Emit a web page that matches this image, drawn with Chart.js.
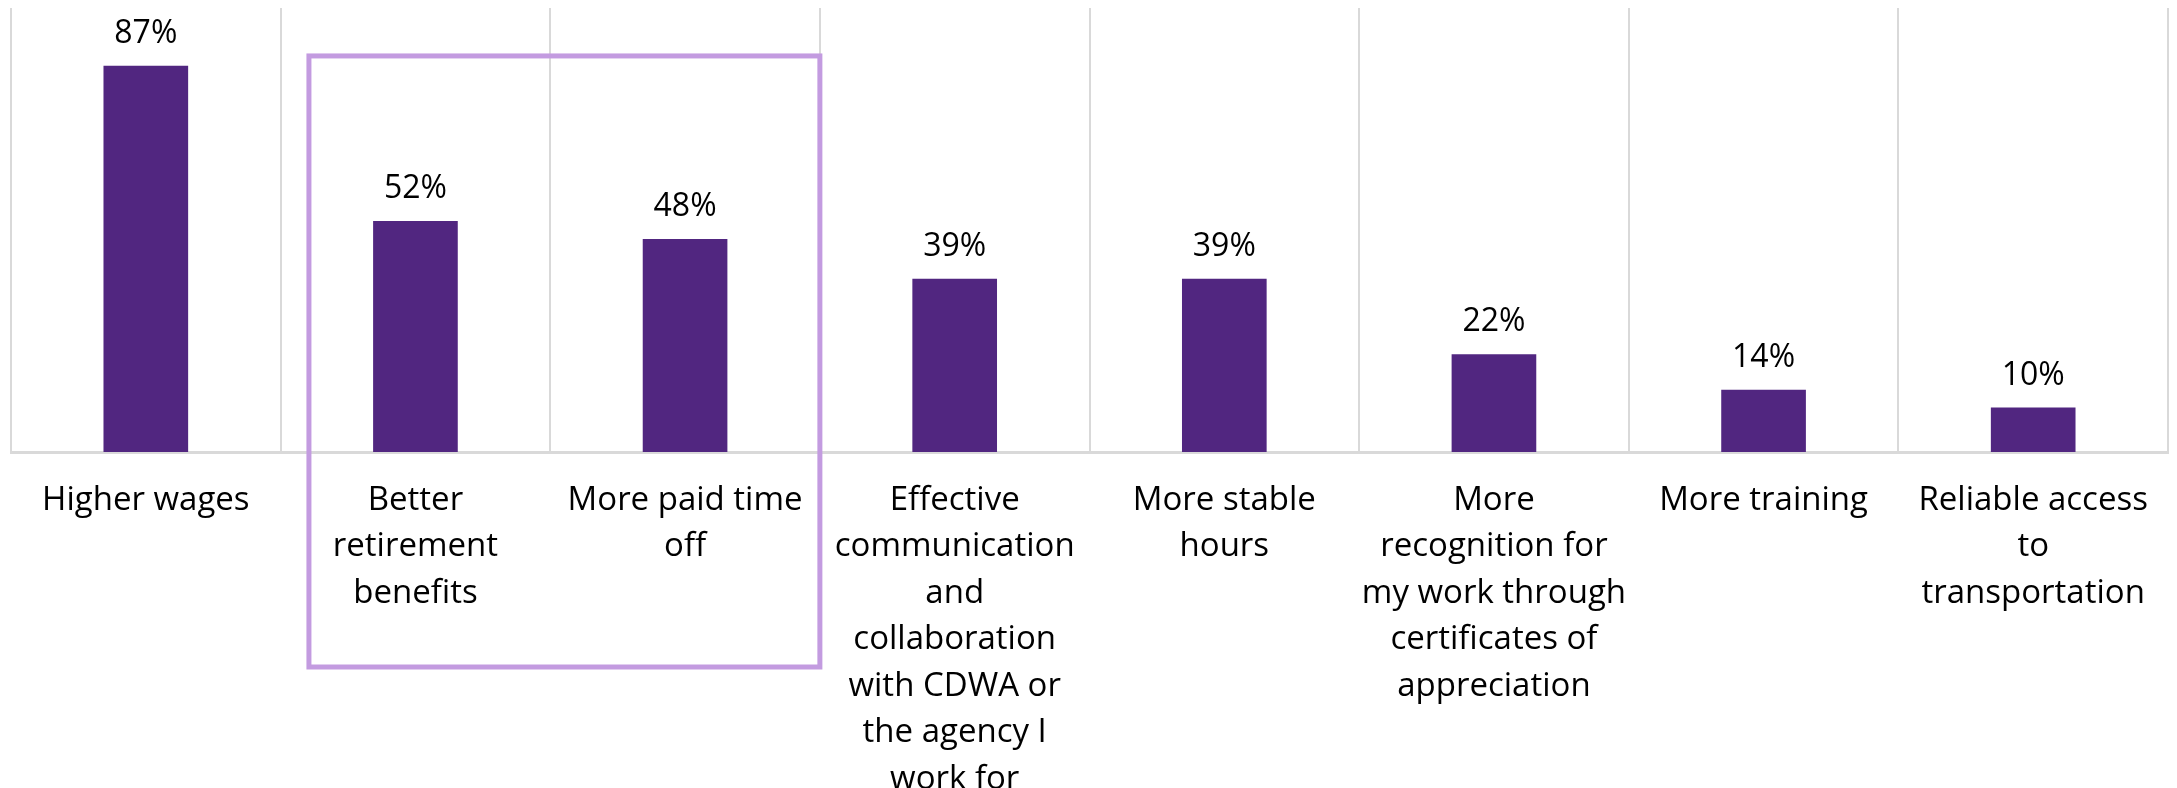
<!DOCTYPE html>
<html lang="en">
<head>
    <meta charset="UTF-8">
    <title>What would improve your work</title>
    <script src="https://cdn.jsdelivr.net/npm/chart.js"></script>
    <style>
        html, body {
            margin: 0;
            padding: 0;
            background: #ffffff;
            overflow: hidden;
        }
        .container {
            width: 2177px;
            height: 788px;
            position: relative;
        }
    </style>
</head>
<body>

    <div class="container">
        <canvas id="benefitsChart"></canvas>
    </div>

    <script>
        // Category labels, already split into the lines they wrap to
        const categories = [
            ['Higher wages'],
            ['Better', 'retirement', 'benefits'],
            ['More paid time', 'off'],
            ['Effective', 'communication', 'and', 'collaboration', 'with CDWA or', 'the agency I', 'work for'],
            ['More stable', 'hours'],
            ['More', 'recognition for', 'my work through', 'certificates of', 'appreciation'],
            ['More training'],
            ['Reliable access', 'to', 'transportation']
        ];
        const percentages = [87, 52, 48, 39, 39, 22, 14, 10];

        // The two categories outlined by the highlight box
        const highlighted = [1, 2];

        const barColor = '#512680';
        const gridColor = '#d9d9d9';
        const fontFamily = '"Open Sans", "Liberation Sans", Arial, sans-serif';

        // Percent labels above every bar
        const valueLabels = {
            id: 'valueLabels',
            afterDatasetsDraw(chart) {
                const ctx = chart.ctx;
                const meta = chart.getDatasetMeta(0);
                ctx.save();
                ctx.font = '32px ' + fontFamily;
                ctx.fillStyle = '#000000';
                ctx.textAlign = 'center';
                ctx.textBaseline = 'alphabetic';
                meta.data.forEach((bar, i) => {
                    ctx.fillText(percentages[i] + '%', bar.x, bar.y - 23);
                });
                ctx.restore();
            }
        };

        // Outline box around the highlighted categories, reaching down over their labels
        const highlightBox = {
            id: 'highlightBox',
            afterDraw(chart, args, opts) {
                const x = chart.scales.x;
                const y = chart.scales.y;
                const step = x.getPixelForValue(1) - x.getPixelForValue(0);
                const left = x.getPixelForValue(highlighted[0]) - opts.leftInset * step;
                const right = x.getPixelForValue(highlighted[highlighted.length - 1]) + step / 2;
                const top = y.getPixelForValue(opts.topValue);
                const bottom = chart.chartArea.bottom + opts.below;
                const ctx = chart.ctx;
                ctx.save();
                ctx.strokeStyle = opts.color;
                ctx.lineWidth = opts.lineWidth;
                ctx.strokeRect(left, top, right - left, bottom - top);
                ctx.restore();
            }
        };

        new Chart(document.getElementById('benefitsChart'), {
            type: 'bar',
            data: {
                labels: categories,
                datasets: [{
                    data: percentages,
                    backgroundColor: barColor,
                    borderWidth: 0,
                    categoryPercentage: 1,
                    barPercentage: 0.314
                }]
            },
            options: {
                responsive: true,
                maintainAspectRatio: false,
                animation: false,
                layout: {
                    padding: { top: 8, left: 11, right: 9, bottom: 0 }
                },
                scales: {
                    x: {
                        grid: {
                            display: true,
                            color: gridColor,
                            lineWidth: 2,
                            offset: true,
                            drawTicks: false
                        },
                        border: {
                            display: true,
                            color: gridColor,
                            width: 3
                        },
                        ticks: {
                            color: '#000000',
                            maxRotation: 0,
                            autoSkip: false,
                            padding: 25,
                            font: { family: fontFamily, size: 33, lineHeight: 46.5 / 33 }
                        },
                        // keep the plot tall: the longest label runs past the bottom edge
                        afterFit(scale) {
                            scale.height = 336;
                        }
                    },
                    y: {
                        display: false,
                        min: 0,
                        max: 100
                    }
                },
                plugins: {
                    legend: { display: false },
                    tooltip: { enabled: false },
                    highlightBox: {
                        color: '#c39be0',
                        lineWidth: 5,
                        leftInset: 0.395,
                        topValue: 89.2,
                        below: 215
                    }
                }
            },
            plugins: [valueLabels, highlightBox]
        });
    </script>

</body>
</html>
